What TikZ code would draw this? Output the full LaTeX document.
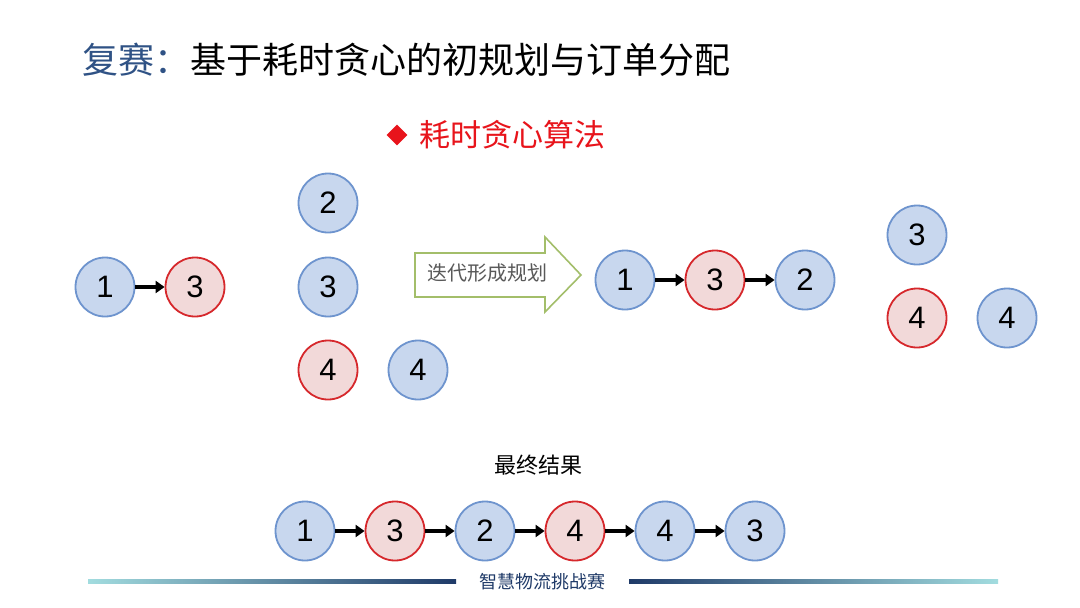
\documentclass[tikz,border=0pt]{standalone}
\usepackage{fontspec}
\setmainfont{Liberation Sans}
\newfontfamily\cjk{Noto Sans CJK SC}
\usepackage{tikz}
\usetikzlibrary{arrows.meta,shapes.geometric}
\usepackage{xcolor}
\definecolor{NodeBlue}{HTML}{C8D7EE}
\definecolor{NodeBlueLine}{HTML}{6E94CE}
\definecolor{NodeRed}{HTML}{F2D9D9}
\definecolor{NodeRedLine}{HTML}{D6282C}
\definecolor{TitleBlue}{HTML}{2F5285}
\definecolor{AlgoRed}{HTML}{E8141B}
\definecolor{IterGreen}{HTML}{A3BE6A}
\definecolor{IterText}{HTML}{595959}
\definecolor{FootCyan}{HTML}{A2DCDF}
\definecolor{FootNavy}{HTML}{1F3A68}

\tikzset{
  bluenode/.style={circle,minimum size=59pt,inner sep=0pt,fill=NodeBlue,
    draw=NodeBlueLine,line width=1.8pt,font=\fontsize{31}{31}\selectfont},
  rednode/.style={bluenode,fill=NodeRed,draw=NodeRedLine},
  link/.style={-{Triangle[length=9pt,width=12pt]},line width=3.6pt}
}

\begin{document}
\begin{tikzpicture}[x=1pt,y=-1pt]
  \useasboundingbox[fill=white] (0,0) rectangle (1080,608);

  % title
  \node[anchor=west,inner sep=0pt,font=\cjk\fontsize{36}{36}\selectfont] (title) at (82,60)
    {\textcolor{TitleBlue}{复赛：}基于耗时贪心的初规划与订单分配};
  \node[diamond,fill=AlgoRed,minimum size=21pt,inner sep=0pt] (mark) at (397,135) {};
  \node[anchor=west,inner sep=0pt,text=AlgoRed,font=\cjk\fontsize{31}{31}\selectfont] (algo) at (419,135)
    {耗时贪心算法};

  % start
  \node[bluenode] (s1) at (105,287) {1};
  \node[rednode] (s3) at (195,287) {3};
  \draw[link] (s1) -- (s3);

  % candidates
  \node[bluenode] (c2) at (328,203) {2};
  \node[bluenode] (c3) at (328,287) {3};
  \node[rednode] (c4) at (328,370) {4};
  \node[bluenode] (d4) at (418,370) {4};

  % iteration arrow
  \draw[IterGreen,line width=1.6pt,line join=miter]
    (415,253) -- (545,253) -- (545,237) -- (581,275) -- (545,312) -- (545,297)
    -- (415,297) -- cycle;
  \node[text=IterText,font=\cjk\fontsize{20}{20}\selectfont] (iter) at (487,273) {迭代形成规划};

  % planned route
  \node[bluenode] (p1) at (625,280) {1};
  \node[rednode] (p3) at (715,280) {3};
  \node[bluenode] (p2) at (805,280) {2};
  \draw[link] (p1) -- (p3);
  \draw[link] (p3) -- (p2);

  % remaining
  \node[bluenode] (r3) at (917,235) {3};
  \node[rednode] (r4) at (917,318) {4};
  \node[bluenode] (q4) at (1007,318) {4};

  % final result
  \node[font=\cjk\fontsize{22}{22}\selectfont] (final) at (538,465) {最终结果};
  \node[bluenode] (f1) at (305,531) {1};
  \node[rednode] (f2) at (395,531) {3};
  \node[bluenode] (f3) at (485,531) {2};
  \node[rednode] (f4) at (575,531) {4};
  \node[bluenode] (f5) at (665,531) {4};
  \node[bluenode] (f6) at (755,531) {3};
  \foreach \a/\b in {f1/f2,f2/f3,f3/f4,f4/f5,f5/f6}
    \draw[link] (\a) -- (\b);

  % footer
  \shade[left color=FootCyan,right color=FootNavy] (88,579) rectangle (456,583);
  \shade[left color=FootNavy,right color=FootCyan] (629,579) rectangle (998,583);
  \node[text=FootNavy,font=\cjk\fontsize{18}{18}\selectfont] (foot) at (542,582) {智慧物流挑战赛};
\end{tikzpicture}
\end{document}
